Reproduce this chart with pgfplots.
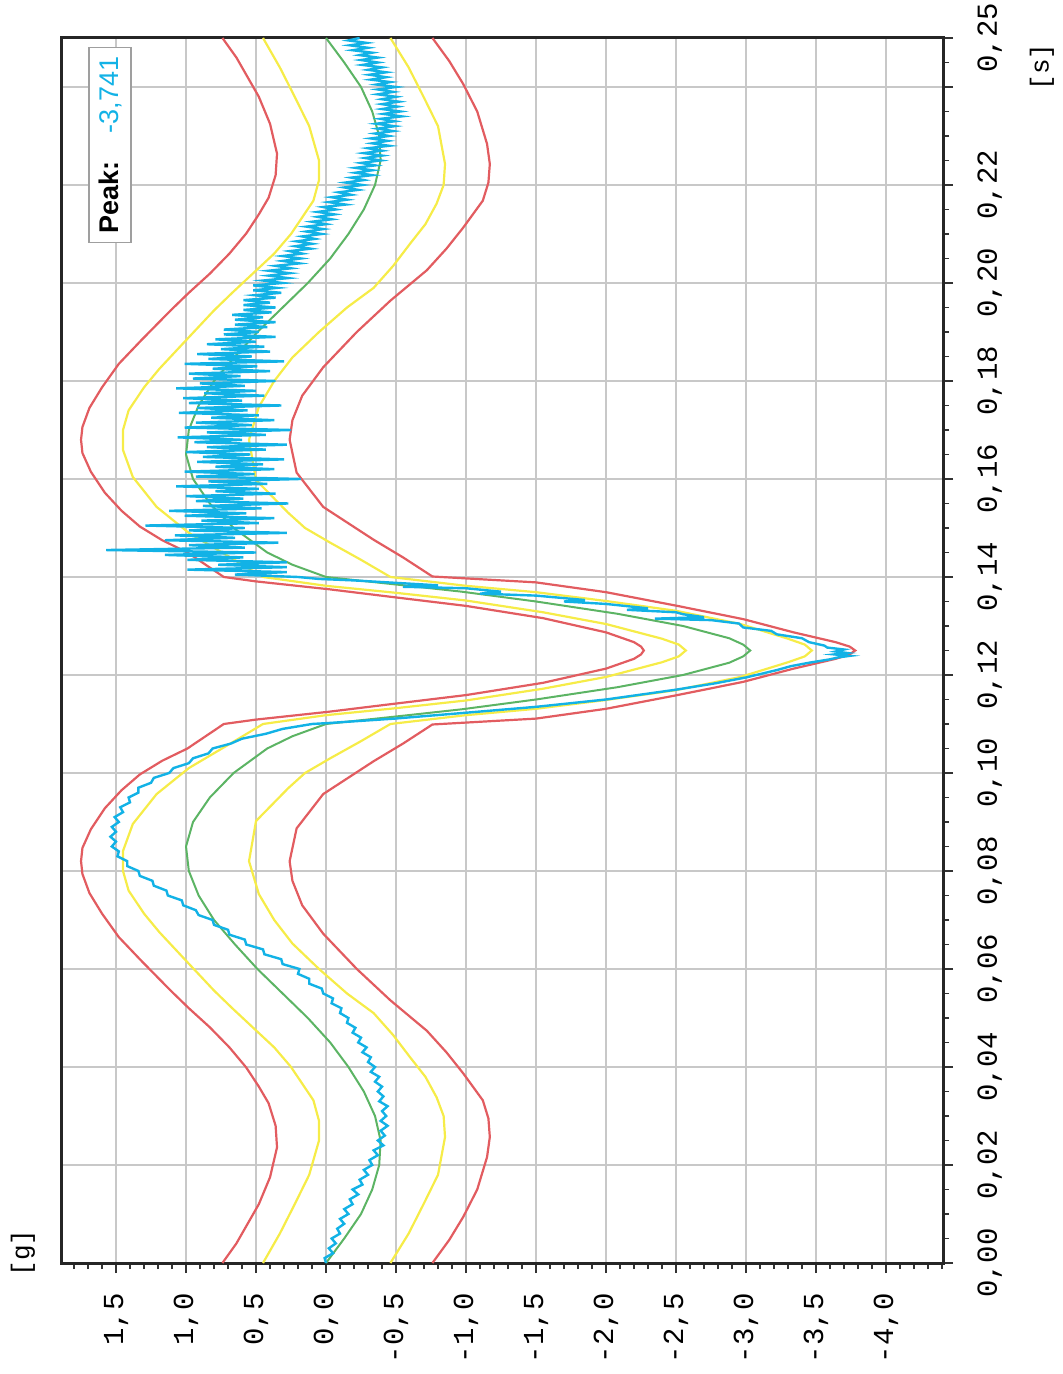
\documentclass[border=0pt]{standalone}
\usepackage{pgfplots}
\pgfplotsset{compat=1.18}
\usepackage{pgfplotstable}
\usepackage{fontspec}
\setmainfont{Liberation Sans}
\setmonofont{Liberation Mono}
\newfontfamily\arial{Liberation Sans}

\definecolor{cRed}{RGB}{226,92,96}
\definecolor{cYel}{RGB}{246,236,72}
\definecolor{cGrn}{RGB}{92,180,100}
\definecolor{cCyan}{RGB}{18,178,230}
\definecolor{cGrid}{RGB}{200,200,200}

\pgfplotstableread{
t g
0.000 0.00
0.005 -0.13
0.010 -0.25
0.015 -0.33
0.020 -0.38
0.025 -0.39
0.030 -0.35
0.035 -0.27
0.040 -0.16
0.045 -0.03
0.050 0.13
0.055 0.31
0.060 0.49
0.065 0.65
0.070 0.80
0.075 0.91
0.080 0.98
0.085 1.00
0.090 0.95
0.095 0.83
0.100 0.66
0.105 0.42
0.1075 0.24
0.110 0.00
0.1115 -0.49
0.113 -0.97
0.115 -1.50
0.1175 -2.08
0.120 -2.55
0.1225 -2.88
0.1238 -2.98
0.125 -3.03
0.1262 -2.98
0.1275 -2.88
0.130 -2.55
0.1325 -2.08
0.135 -1.50
0.137 -0.97
0.1385 -0.49
0.140 0.00
0.1425 0.24
0.145 0.42
0.150 0.66
0.155 0.83
0.160 0.95
0.165 1.00
0.170 0.98
0.175 0.91
0.180 0.80
0.185 0.65
0.190 0.49
0.195 0.31
0.200 0.13
0.205 -0.03
0.210 -0.16
0.215 -0.27
0.220 -0.35
0.225 -0.39
0.230 -0.38
0.235 -0.33
0.240 -0.25
0.245 -0.13
0.250 0.00
}\tabGreen

\pgfplotstableread{
t g
0.000 0.74
0.004 0.64
0.008 0.56
0.012 0.48
0.0175 0.40
0.0236 0.35
0.028 0.36
0.0326 0.41
0.036 0.48
0.0399 0.57
0.044 0.69
0.0481 0.83
0.052 0.98
0.0556 1.11
0.0617 1.32
0.0665 1.48
0.0713 1.60
0.0755 1.69
0.0794 1.74
0.082 1.75
0.0847 1.74
0.0885 1.68
0.0928 1.58
0.0965 1.46
0.0997 1.33
0.1025 1.17
0.105 0.99
0.1075 0.86
0.1100 0.73
0.1109 0.50
0.1125 -0.02
0.1140 -0.45
0.1159 -1.00
0.1184 -1.55
0.1213 -2.00
0.1233 -2.20
0.1242 -2.25
0.1250 -2.27
0.1258 -2.25
0.1267 -2.20
0.1287 -2.00
0.1316 -1.55
0.1341 -1.00
0.1360 -0.45
0.1375 -0.02
0.1391 0.50
0.1400 0.73
0.1425 0.86
0.1450 0.99
0.1475 1.17
0.1503 1.33
0.1535 1.46
0.1572 1.58
0.1615 1.68
0.1653 1.74
0.1680 1.75
0.1706 1.74
0.1745 1.69
0.1787 1.60
0.1835 1.48
0.1883 1.32
0.1944 1.11
0.1980 0.98
0.2019 0.83
0.2060 0.69
0.2101 0.57
0.2140 0.48
0.2174 0.41
0.2220 0.36
0.2264 0.35
0.2325 0.40
0.2380 0.48
0.2420 0.56
0.2460 0.64
0.2500 0.74
}\tabRa

\pgfplotstableread{
t g
0.000 0.45
0.006 0.33
0.0122 0.22
0.018 0.12
0.025 0.05
0.029 0.05
0.0332 0.09
0.040 0.25
0.044 0.37
0.048 0.52
0.052 0.67
0.0556 0.80
0.0623 1.02
0.0675 1.19
0.0713 1.30
0.076 1.41
0.080 1.45
0.0841 1.45
0.0896 1.38
0.0957 1.21
0.101 0.98
0.1064 0.66
0.1100 0.45
0.1118 0.00
0.1132 -0.49
0.1148 -1.00
0.1172 -1.55
0.1196 -2.00
0.1226 -2.40
0.1238 -2.52
0.1250 -2.57
0.1262 -2.52
0.1274 -2.40
0.1304 -2.00
0.1328 -1.55
0.1352 -1.00
0.1368 -0.49
0.1382 0.00
0.1400 0.45
0.1436 0.66
0.1490 0.98
0.1543 1.21
0.1604 1.38
0.1659 1.45
0.1700 1.45
0.1740 1.41
0.1787 1.30
0.1825 1.19
0.1877 1.02
0.1944 0.80
0.1980 0.67
0.2020 0.52
0.2060 0.37
0.2100 0.25
0.2168 0.09
0.2210 0.05
0.2250 0.05
0.2320 0.12
0.2378 0.22
0.2440 0.33
0.2500 0.45
}\tabYa

\pgfplotstableread{
t g
0.000 -0.46
0.006 -0.59
0.0122 -0.70
0.018 -0.80
0.0257 -0.85
0.030 -0.84
0.0338 -0.79
0.038 -0.71
0.042 -0.60
0.0465 -0.48
0.051 -0.34
0.055 -0.15
0.060 0.05
0.0652 0.24
0.070 0.37
0.0753 0.48
0.082 0.55
0.0902 0.50
0.0969 0.27
0.100 0.15
0.103 -0.03
0.1065 -0.25
0.1100 -0.46
0.1118 -1.00
0.1131 -1.50
0.1149 -2.00
0.1169 -2.50
0.1196 -2.96
0.1226 -3.30
0.1238 -3.42
0.1250 -3.47
0.1262 -3.42
0.1274 -3.30
0.1304 -2.96
0.1331 -2.50
0.1351 -2.00
0.1369 -1.50
0.1382 -1.00
0.1400 -0.46
0.1435 -0.25
0.1470 -0.03
0.1500 0.15
0.1531 0.27
0.1598 0.50
0.1680 0.55
0.1747 0.48
0.1800 0.37
0.1848 0.24
0.1900 0.05
0.1950 -0.15
0.1990 -0.34
0.2035 -0.48
0.2080 -0.60
0.2120 -0.71
0.2162 -0.79
0.2200 -0.84
0.2243 -0.85
0.2320 -0.80
0.2378 -0.70
0.2440 -0.59
0.2500 -0.46
}\tabYb

\pgfplotstableread{
t g
0.000 -0.76
0.0047 -0.88
0.0094 -0.98
0.015 -1.08
0.0216 -1.15
0.0257 -1.17
0.0295 -1.16
0.0332 -1.12
0.0387 -0.98
0.043 -0.86
0.0474 -0.72
0.0536 -0.46
0.060 -0.22
0.0672 0.02
0.073 0.17
0.078 0.24
0.082 0.26
0.0887 0.21
0.0957 0.02
0.1024 -0.34
0.1060 -0.55
0.1099 -0.76
0.1111 -1.50
0.1131 -2.00
0.1159 -2.51
0.1186 -2.98
0.1213 -3.34
0.1233 -3.64
0.1242 -3.74
0.1250 -3.78
0.1258 -3.74
0.1267 -3.64
0.1287 -3.34
0.1314 -2.98
0.1341 -2.51
0.1369 -2.00
0.1389 -1.50
0.1401 -0.76
0.1440 -0.55
0.1476 -0.34
0.1543 0.02
0.1613 0.21
0.1680 0.26
0.1720 0.24
0.1770 0.17
0.1828 0.02
0.1900 -0.22
0.1964 -0.46
0.2026 -0.72
0.2070 -0.86
0.2113 -0.98
0.2168 -1.12
0.2205 -1.16
0.2243 -1.17
0.2284 -1.15
0.2350 -1.08
0.2406 -0.98
0.2453 -0.88
0.2500 -0.76
}\tabRb

\pgfplotstableread{
t g
0.000 0.00
0.001 0.01
0.002 -0.05
0.003 -0.02
0.004 -0.07
0.005 -0.04
0.006 -0.10
0.007 -0.08
0.008 -0.13
0.009 -0.10
0.010 -0.16
0.011 -0.13
0.012 -0.19
0.013 -0.17
0.014 -0.23
0.015 -0.19
0.016 -0.26
0.017 -0.24
0.018 -0.30
0.019 -0.27
0.020 -0.33
0.021 -0.31
0.022 -0.37
0.023 -0.34
0.024 -0.41
0.025 -0.37
0.026 -0.42
0.027 -0.39
0.028 -0.44
0.029 -0.39
0.030 -0.43
0.031 -0.40
0.032 -0.44
0.033 -0.38
0.034 -0.41
0.035 -0.37
0.036 -0.40
0.037 -0.35
0.038 -0.38
0.039 -0.32
0.040 -0.35
0.041 -0.30
0.042 -0.32
0.043 -0.26
0.044 -0.29
0.045 -0.23
0.046 -0.25
0.047 -0.19
0.048 -0.21
0.049 -0.15
0.050 -0.16
0.051 -0.10
0.052 -0.11
0.053 -0.04
0.054 -0.05
0.055 0.02
0.056 0.03
0.057 0.12
0.058 0.12
0.059 0.20
0.060 0.19
0.061 0.31
0.062 0.32
0.063 0.44
0.064 0.45
0.065 0.57
0.066 0.58
0.067 0.69
0.068 0.70
0.069 0.80
0.070 0.81
0.071 0.91
0.072 0.93
0.073 1.02
0.074 1.03
0.075 1.13
0.076 1.14
0.077 1.23
0.078 1.24
0.079 1.33
0.080 1.34
0.081 1.42
0.082 1.42
0.083 1.49
0.084 1.48
0.085 1.53
0.086 1.50
0.087 1.54
0.088 1.50
0.089 1.53
0.090 1.48
0.091 1.51
0.092 1.45
0.093 1.47
0.094 1.40
0.095 1.41
0.096 1.34
0.097 1.34
0.098 1.25
0.099 1.23
0.100 1.12
0.101 1.09
0.102 0.98
0.103 0.95
0.104 0.84
0.105 0.81
0.106 0.68
0.107 0.60
0.108 0.43
0.109 0.31
0.110 0.10
0.1102 -0.02
0.1111 -0.49
0.1123 -1.00
0.1135 -1.50
0.1150 -2.00
0.1170 -2.50
0.1183 -2.78
0.1195 -3.00
0.1210 -3.22
0.1218 -3.32
0.1225 -3.45
0.1232 -3.60
0.1236 -3.66
0.1239 -3.74
0.1242 -3.63
0.1245 -3.72
0.1248 -3.64
0.1252 -3.70
0.1256 -3.58
0.1260 -3.56
0.1267 -3.45
0.1275 -3.40
0.1283 -3.22
0.1290 -3.18
0.1297 -2.98
0.1305 -2.95
0.1312 -2.75
0.1315 -2.35
0.1318 -2.70
0.1324 -2.55
0.1328 -2.50
0.1333 -2.15
0.1336 -2.30
0.1345 -2.00
0.1350 -1.70
0.1353 -1.85
0.1362 -1.50
0.1366 -1.10
0.1370 -1.25
0.1377 -1.00
0.1380 -0.55
0.1383 -0.80
0.1388 -0.50
0.1393 -0.20
0.1396 0.05
0.1400 0.20
0.1405 0.65
0.1410 0.28
0.1415 0.99
0.1420 0.28
0.1425 0.77
0.1430 0.28
0.1435 0.99
0.1440 0.59
0.1445 1.15
0.1450 0.50
0.1455 1.57
0.1460 0.58
0.1465 0.98
0.1470 0.34
0.1475 1.15
0.1480 0.65
0.1485 1.08
0.1490 0.28
0.1495 0.98
0.1500 0.58
0.1505 1.29
0.1510 0.48
0.1515 0.89
0.1520 0.37
0.1525 1.01
0.1530 0.57
0.1535 1.12
0.1540 0.46
0.1545 0.88
0.1550 0.27
0.1555 0.93
0.1560 0.59
0.1565 1.00
0.1570 0.36
0.1575 0.79
0.1580 0.48
0.1585 1.07
0.1590 0.42
0.1595 0.84
0.1600 0.18
0.1605 0.93
0.1610 0.51
0.1615 1.01
0.1620 0.37
0.1625 0.79
0.1630 0.45
0.1635 0.92
0.1640 0.30
0.1645 0.88
0.1650 0.54
0.1655 1.00
0.1660 0.43
0.1665 0.85
0.1670 0.28
0.1675 0.94
0.1680 0.60
0.1685 1.06
0.1690 0.43
0.1695 0.85
0.1700 0.25
0.1705 1.01
0.1710 0.53
0.1715 0.93
0.1720 0.37
0.1725 0.82
0.1730 0.48
0.1735 1.05
0.1740 0.56
0.1745 0.92
0.1750 0.32
0.1755 0.98
0.1760 0.60
0.1765 1.02
0.1770 0.44
0.1775 0.87
0.1780 0.50
0.1785 1.07
0.1790 0.58
0.1795 0.90
0.1800 0.36
0.1805 0.95
0.1810 0.61
0.1815 0.98
0.1820 0.40
0.1825 0.81
0.1830 0.49
0.1835 1.01
0.1840 0.30
0.1845 0.84
0.1850 0.53
0.1855 0.92
0.1860 0.40
0.1865 0.75
0.1870 0.44
0.1875 0.85
0.1880 0.50
0.1885 0.79
0.1890 0.36
0.1895 0.73
0.1900 0.48
0.1905 0.73
0.1910 0.42
0.1915 0.65
0.1920 0.36
0.1925 0.65
0.1930 0.45
0.1935 0.67
0.1940 0.39
0.1945 0.59
0.1950 0.36
0.1955 0.59
0.1960 0.40
0.1965 0.59
0.1970 0.36
0.1975 0.51
0.1980 0.32
0.1985 0.52
0.1990 0.35
0.1995 0.52
0.2000 0.31
0.2005 0.45
0.2010 0.27
0.2015 0.41
0.2020 0.26
0.2025 0.41
0.2030 0.25
0.2035 0.36
0.2040 0.19
0.2045 0.31
0.2050 0.18
0.2055 0.31
0.2060 0.17
0.2065 0.26
0.2070 0.11
0.2075 0.22
0.2080 0.10
0.2085 0.21
0.2090 0.08
0.2095 0.17
0.2100 0.03
0.2105 0.14
0.2110 0.02
0.2115 0.14
0.2120 0.00
0.2125 0.10
0.2130 -0.04
0.2135 0.06
0.2140 -0.06
0.2145 0.06
0.2150 -0.07
0.2155 0.02
0.2160 -0.14
0.2165 -0.02
0.2170 -0.15
0.2175 -0.04
0.2180 -0.18
0.2185 -0.09
0.2190 -0.23
0.2195 -0.13
0.2200 -0.26
0.2205 -0.14
0.2210 -0.27
0.2215 -0.18
0.2220 -0.33
0.2225 -0.21
0.2230 -0.33
0.2235 -0.21
0.2240 -0.35
0.2245 -0.25
0.2250 -0.39
0.2255 -0.28
0.2260 -0.40
0.2265 -0.27
0.2270 -0.40
0.2275 -0.30
0.2280 -0.45
0.2285 -0.33
0.2290 -0.44
0.2295 -0.32
0.2300 -0.45
0.2305 -0.35
0.2310 -0.48
0.2315 -0.37
0.2320 -0.49
0.2325 -0.36
0.2330 -0.49
0.2335 -0.39
0.2340 -0.54
0.2345 -0.41
0.2350 -0.53
0.2355 -0.40
0.2360 -0.51
0.2365 -0.40
0.2370 -0.52
0.2375 -0.40
0.2380 -0.50
0.2385 -0.37
0.2390 -0.48
0.2395 -0.37
0.2400 -0.50
0.2405 -0.36
0.2410 -0.46
0.2415 -0.32
0.2420 -0.43
0.2425 -0.31
0.2430 -0.43
0.2435 -0.30
0.2440 -0.40
0.2445 -0.26
0.2450 -0.37
0.2455 -0.25
0.2460 -0.37
0.2465 -0.24
0.2470 -0.33
0.2475 -0.19
0.2480 -0.30
0.2485 -0.17
0.2490 -0.29
0.2495 -0.16
0.2500 -0.24
}\tabCyan

\begin{document}
\begin{tikzpicture}
\begin{axis}[
  name=ax,
  scale only axis, width=440.5pt, height=612.5pt,
  x dir=reverse,
  xmin=-4.407, xmax=1.886, ymin=0, ymax=0.25,
  axis line style={line width=1.5pt, color=black!85},
  xtick={-4,-3.5,-3,-2.5,-2,-1.5,-1,-0.5,0,0.5,1,1.5},
  xticklabels={-4{,}0,-3{,}5,-3{,}0,-2{,}5,-2{,}0,-1{,}5,-1{,}0,-0{,}5,0{,}0,0{,}5,1{,}0,1{,}5},
  minor xtick={-4.4,-4.3,...,1.85},
  ytick={0,0.02,0.04,0.06,0.08,0.1,0.12,0.14,0.16,0.18,0.2,0.22,0.24,0.25},
  yticklabels={0{,}00,0{,}02,0{,}04,0{,}06,0{,}08,0{,}10,0{,}12,0{,}14,0{,}16,0{,}18,0{,}20,0{,}22,{},0{,}25},
  minor ytick={0,0.005,...,0.2501},
  xtick pos=bottom, ytick pos=right, yticklabel pos=right,
  tick align=outside,
  major tick length=5pt, minor tick length=3pt,
  tick style={black!80, line width=0.7pt},
  grid=major,
  major grid style={cGrid, line width=0.55pt},
  xticklabel style={rotate=90, anchor=east, inner sep=0pt, font=\ttfamily\fontsize{14.5}{14.5}\selectfont},
  yticklabel style={rotate=90, anchor=north, inner sep=0pt, font=\ttfamily\fontsize{14.5}{14.5}\selectfont},
  xticklabel shift=10pt,
  yticklabel shift=12pt,
  every axis plot/.append style={no markers},
]
\addplot[cRed, line width=1.1pt] table[x=g,y=t] {\tabRa};
\addplot[cRed, line width=1.1pt] table[x=g,y=t] {\tabRb};
\addplot[cYel, line width=1.1pt] table[x=g,y=t] {\tabYa};
\addplot[cYel, line width=1.1pt] table[x=g,y=t] {\tabYb};
\addplot[cGrn, line width=1.0pt] table[x=g,y=t] {\tabGreen};
\addplot[cCyan, line width=1.2pt] table[x=g,y=t] {\tabCyan};
\end{axis}
\node[rotate=90, font=\ttfamily\fontsize{13}{13}\selectfont] at ([xshift=-19.5pt, yshift=5pt]ax.south west) {[g]};
\node[rotate=90, font=\ttfamily\fontsize{13}{13}\selectfont] at ([xshift=49.5pt, yshift=-14.5pt]ax.north east) {[s]};
\node[rotate=90, draw=gray!75, fill=white, line width=0.7pt, minimum width=97.5pt, minimum height=21pt, inner sep=0pt, font=\arial\fontsize{13.5}{13.5}\selectfont] at ([xshift=24pt, yshift=-53.5pt]ax.north west) {\textbf{Peak:}\hspace{14pt}\textcolor{cCyan}{-3,741}};
\pgfresetboundingbox
\path[use as bounding box] ([xshift=-31pt, yshift=-55.5pt]ax.south west) rectangle ([xshift=60pt, yshift=19pt]ax.north east);
\end{tikzpicture}
\end{document}
